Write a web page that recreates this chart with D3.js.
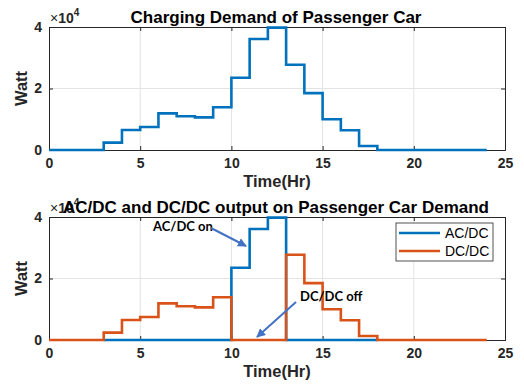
<!DOCTYPE html>
<html>
<head>
<meta charset="utf-8">
<script src="https://cdn.jsdelivr.net/npm/d3@7"></script>
<style>
  body { margin: 0; background: #fff; }
  svg { display: block; font-family: "Liberation Sans", Arial, sans-serif; }
</style>
</head>
<body>
<svg id="chart" width="524" height="387"></svg>
<script>
// hourly charging demand, units of 1e4 W, hour h covers [h, h+1)
const hours = d3.range(0, 24);
const demand = [0, 0, 0, 0.24, 0.65, 0.75, 1.19, 1.10, 1.06, 1.39, 2.35, 3.61, 3.98,
                2.77, 1.85, 1.00, 0.64, 0.13, 0, 0, 0, 0, 0, 0];
// AC/DC runs hours 10-12 only, drawn from hour 3 to 18
const acdcHours = d3.range(3, 18);
const acdc = acdcHours.map(h => (h >= 10 && h < 13) ? demand[h] : 0);
// DC/DC supplies everything except hours 10-12
const dcdc = hours.map(h => (h >= 10 && h < 13) ? 0 : demand[h]);

const xTicks = [0, 5, 10, 15, 20, 25];
const yTicks = [0, 2, 4];

const blue = "#0072BD", orange = "#D95319", arrowCol = "#4472C4";
const svg = d3.select("#chart");

const defs = svg.append("defs");
defs.append("marker").attr("id", "arr").attr("viewBox", "0 0 10 10")
  .attr("refX", 9).attr("refY", 5).attr("markerWidth", 4.5).attr("markerHeight", 4.5)
  .attr("orient", "auto")
  .append("path").attr("d", "M0,0L10,5L0,10z").attr("fill", arrowCol);

function stepPts(hs, vals) {
  const pts = hs.map((h, i) => [h, vals[i]]);
  pts.push([hs[hs.length - 1] + 1, vals[vals.length - 1]]);
  return pts;
}

function panel(top, title, series) {
  const L = 49, R = 505, B = top + 123;
  const x = d3.scaleLinear().domain([0, 25]).range([L, R]);
  const y = d3.scaleLinear().domain([0, 4]).range([B, top]);
  const g = svg.append("g");

  // grid
  g.selectAll(".gx").data(xTicks.slice(1, -1)).join("line")
    .attr("x1", d => x(d)).attr("x2", d => x(d)).attr("y1", top).attr("y2", B)
    .attr("stroke", "#e3e3e3").attr("stroke-width", 1);
  g.selectAll(".gy").data(yTicks.slice(1, -1)).join("line")
    .attr("x1", L).attr("x2", R).attr("y1", d => y(d)).attr("y2", d => y(d))
    .attr("stroke", "#e3e3e3").attr("stroke-width", 1);

  // axes
  const fmt = d3.format("d");
  const xa = g.append("g").attr("transform", `translate(0,${B})`)
    .call(d3.axisBottom(x).tickValues(xTicks).tickFormat(fmt).tickSize(-4).tickPadding(8));
  const xt = g.append("g").attr("transform", `translate(0,${top})`)
    .call(d3.axisTop(x).tickValues(xTicks).tickSize(-4).tickFormat(""));
  const ya = g.append("g").attr("transform", `translate(${L},0)`)
    .call(d3.axisLeft(y).tickValues(yTicks).tickFormat(fmt).tickSize(-4).tickPadding(7));
  const yr = g.append("g").attr("transform", `translate(${R},0)`)
    .call(d3.axisRight(y).tickValues(yTicks).tickSize(-4).tickFormat(""));
  [xa, xt, ya, yr].forEach(a => {
    a.select(".domain").attr("stroke", "#262626").attr("stroke-width", 1);
    a.selectAll(".tick line").attr("stroke", "#262626");
    a.selectAll("text").attr("fill", "#262626").attr("font-size", 14)
      .attr("font-weight", "bold").attr("font-family", "Liberation Sans, Arial");
  });

  // exponent label
  const ex = g.append("text").attr("x", L + 1).attr("y", top - 4)
    .attr("font-size", 14).attr("fill", "#262626");
  ex.append("tspan").text("\u00d7");
  ex.append("tspan").attr("font-weight", "bold").text("10");
  ex.append("tspan").attr("dy", -7).attr("font-size", 10).attr("font-weight", "bold").text("4");

  // lines
  const line = d3.line().curve(d3.curveStepAfter).x(d => x(d[0])).y(d => y(d[1]));
  series.forEach(s => {
    g.append("path").datum(stepPts(s.hours, s.vals))
      .attr("d", line).attr("fill", "none").attr("stroke", s.color)
      .attr("stroke-width", 2.6).attr("stroke-linejoin", "miter");
  });

  // title and labels
  g.append("text").attr("x", 276).attr("y", top - 4).attr("text-anchor", "middle")
    .attr("font-size", 17).attr("font-weight", "bold").attr("fill", "#000").text(title);
  g.append("text").attr("x", 277).attr("y", B + 37).attr("text-anchor", "middle")
    .attr("font-size", 16.5).attr("font-weight", "bold").attr("fill", "#262626").text("Time(Hr)");
  g.append("text").attr("transform", `translate(21,${(top + B) / 2}) rotate(-90)`)
    .attr("text-anchor", "middle").attr("dominant-baseline", "central")
    .attr("font-size", 16.5).attr("font-weight", "bold")
    .attr("fill", "#262626").text("Watt");
  return { x, y, g };
}

panel(27, "Charging Demand of Passenger Car", [
  { hours: hours, vals: demand, color: blue }
]);

panel(217, "AC/DC and DC/DC output on Passenger Car Demand", [
  { hours: acdcHours, vals: acdc, color: blue },
  { hours: hours, vals: dcdc, color: orange }
]);

// legend
const lg = svg.append("g");
lg.append("rect").attr("x", 396).attr("y", 223).attr("width", 97).attr("height", 38)
  .attr("fill", "#fff").attr("stroke", "#262626").attr("stroke-width", 0.8);
[{ name: "AC/DC", color: blue }, { name: "DC/DC", color: orange }].forEach((d, i) => {
  const yy = 233 + i * 18;
  lg.append("line").attr("x1", 399).attr("x2", 440).attr("y1", yy).attr("y2", yy)
    .attr("stroke", d.color).attr("stroke-width", 2.6);
  lg.append("text").attr("x", 445).attr("y", yy + 5).attr("font-size", 14)
    .attr("fill", "#000").text(d.name);
});

// annotations
const an = svg.append("g").attr("font-family", "Lato, Carlito, sans-serif")
  .attr("font-weight", "bold").attr("font-size", 13).attr("fill", "#000");
an.append("text").attr("x", 153).attr("y", 231).text("AC/DC on");
an.append("text").attr("x", 300).attr("y", 301).text("DC/DC off");
an.append("line").attr("x1", 211).attr("y1", 228).attr("x2", 246).attr("y2", 246)
  .attr("stroke", arrowCol).attr("stroke-width", 2).attr("marker-end", "url(#arr)");
an.append("line").attr("x1", 296).attr("y1", 302).attr("x2", 257).attr("y2", 337)
  .attr("stroke", arrowCol).attr("stroke-width", 2).attr("marker-end", "url(#arr)");
</script>
</body>
</html>
